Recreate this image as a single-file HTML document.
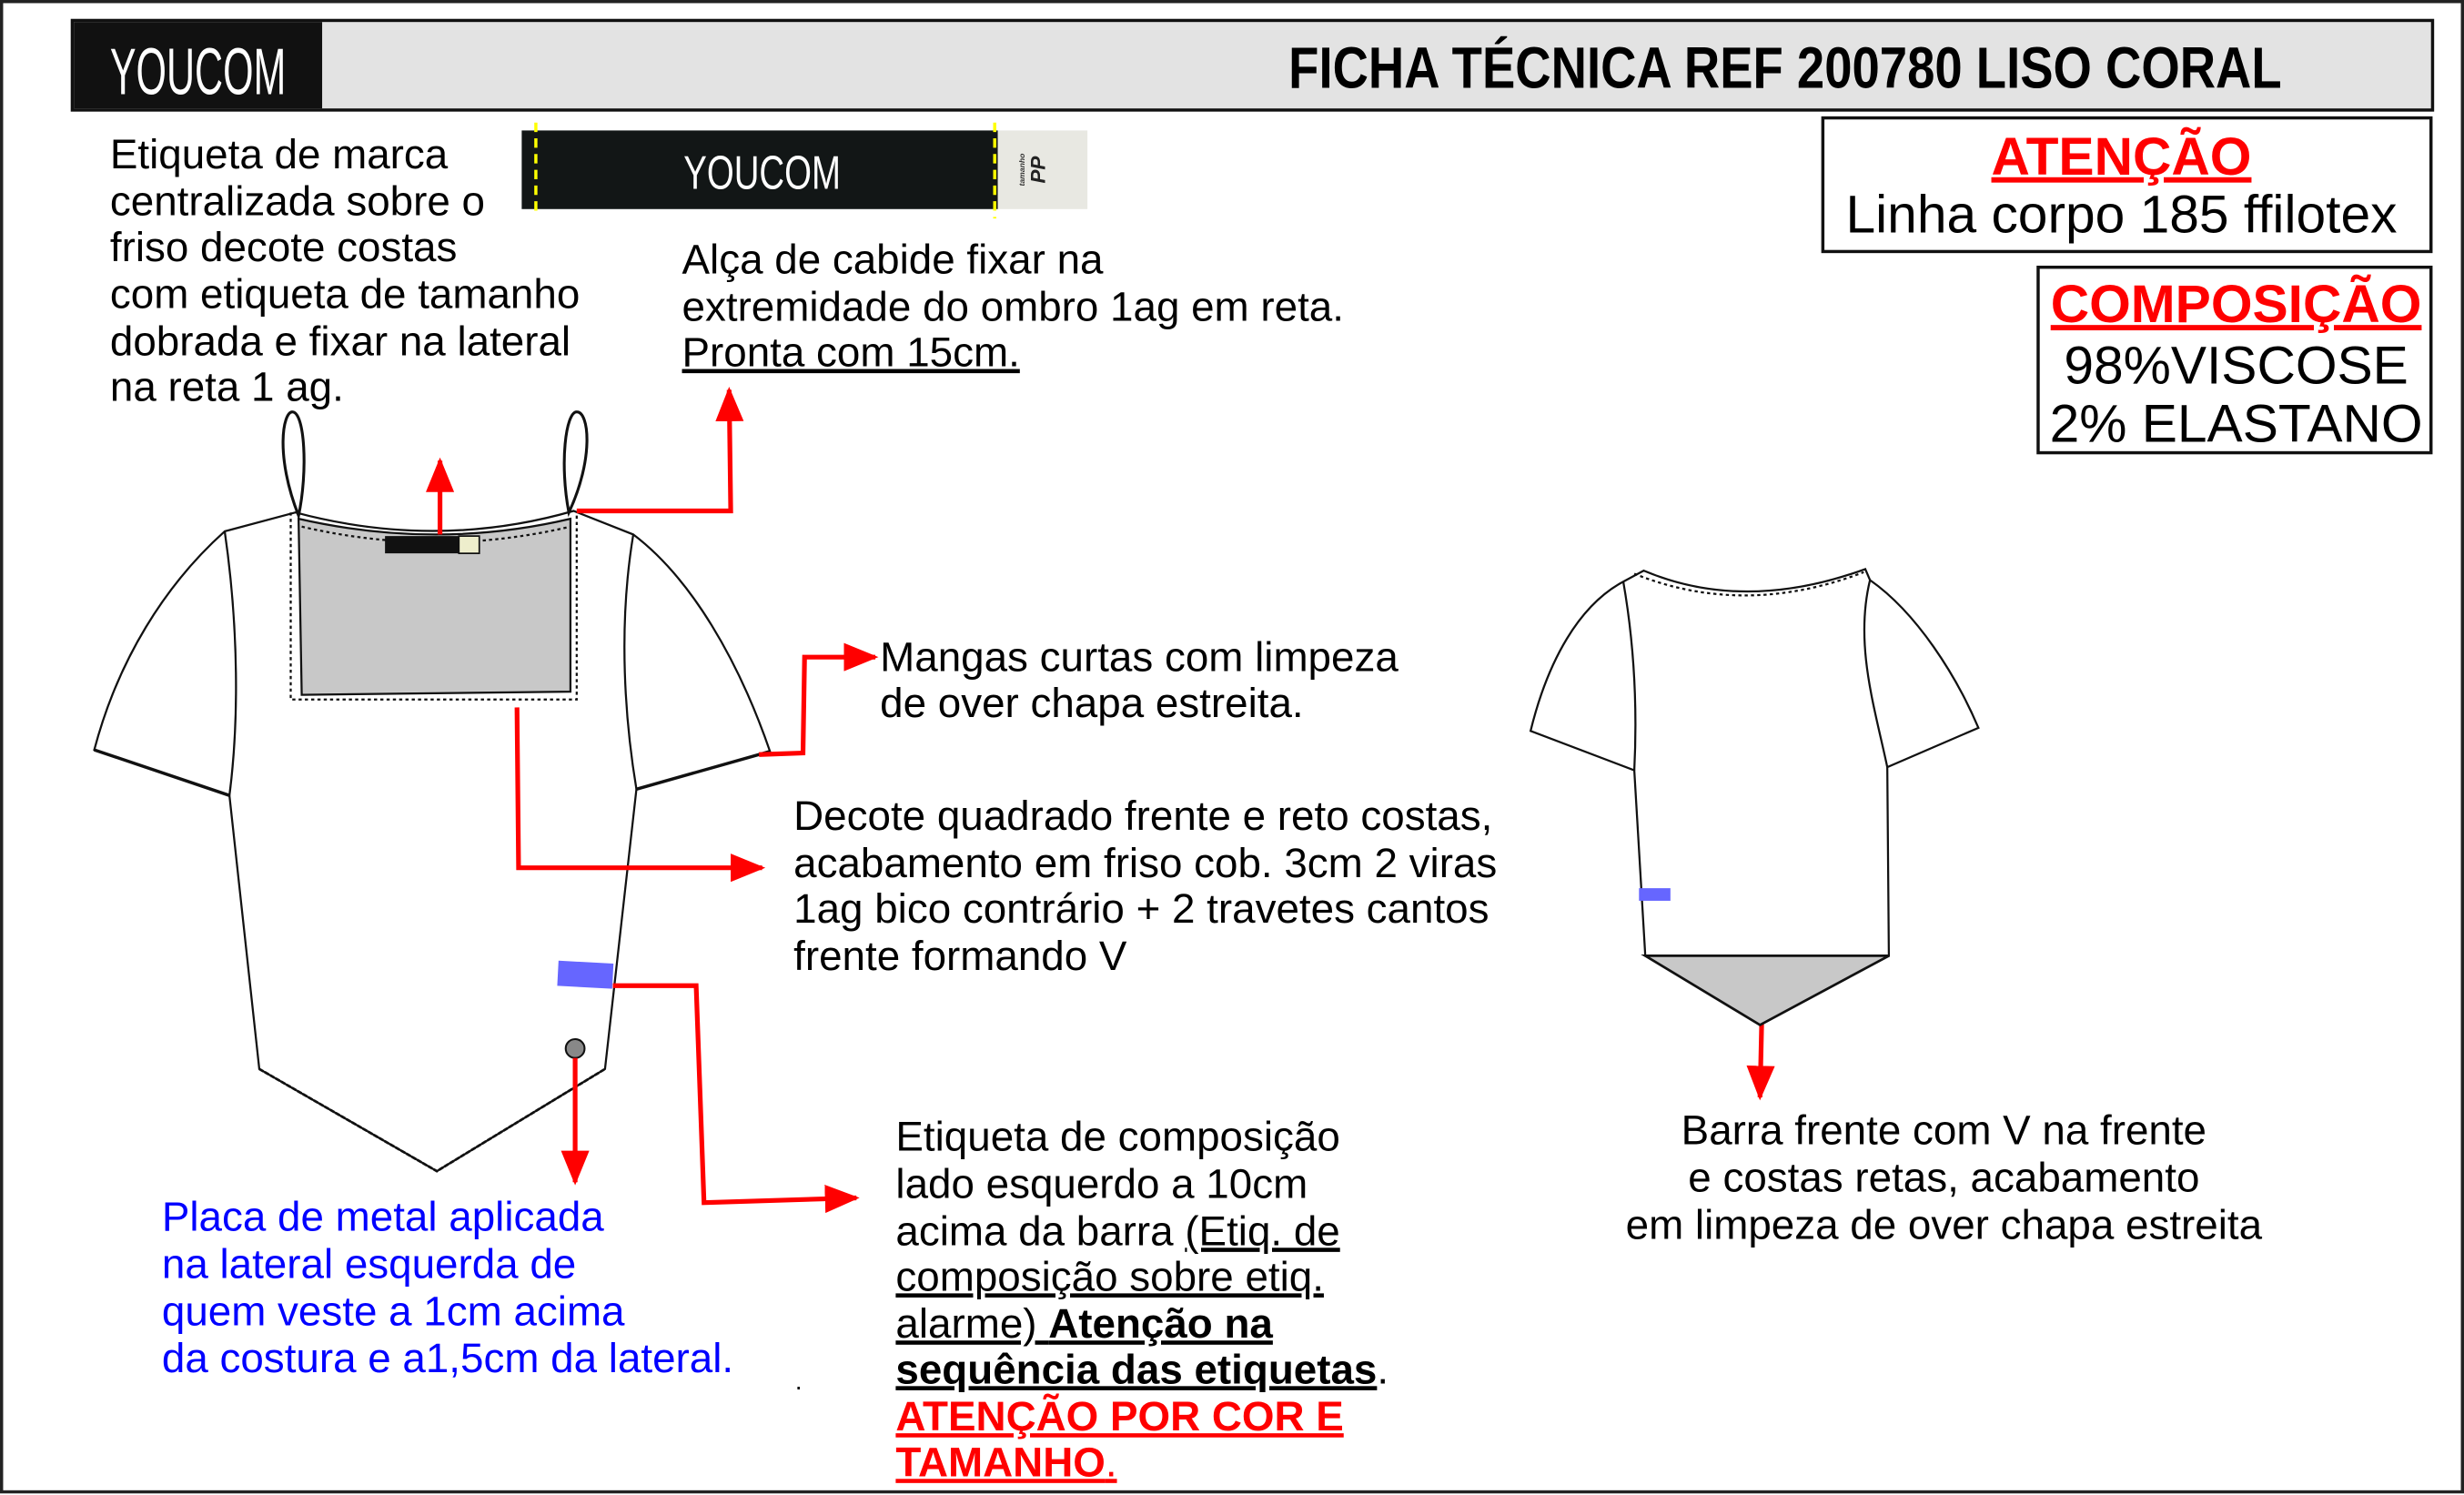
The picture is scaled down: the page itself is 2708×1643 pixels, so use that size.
<!DOCTYPE html>
<html><head><meta charset="utf-8"><style>
html,body{margin:0;padding:0;background:#fff;}
svg{display:block;}
text{font-family:"Liberation Sans",sans-serif;}
</style></head><body>
<svg width="2708" height="1643" viewBox="0 0 1568 951" preserveAspectRatio="none" xmlns="http://www.w3.org/2000/svg">
<defs>
<marker id="ah" markerWidth="22" markerHeight="18" refX="20" refY="9" orient="auto" markerUnits="userSpaceOnUse"><path d="M0,0 L22,9 L0,18 Z" fill="#f00"/></marker>
</defs>
<rect x="1" y="1" width="1566" height="948" fill="#fff" stroke="#222" stroke-width="2"/>
<!-- header -->
<rect x="46" y="13" width="1502" height="57" fill="#e3e3e3" stroke="#111" stroke-width="2"/>
<rect x="47" y="14" width="158" height="55" fill="#111"/>
<text x="126" y="60" font-size="42" fill="#fff" text-anchor="middle" font-family="Liberation Sans Narrow, Liberation Sans, sans-serif" textLength="112" lengthAdjust="spacingAndGlyphs">YOUCOM</text>
<text x="1452" y="56" font-size="37" font-weight="bold" text-anchor="end" font-family="Liberation Sans Narrow, Liberation Sans, sans-serif" textLength="632" lengthAdjust="spacingAndGlyphs">FICHA TÉCNICA REF 200780 LISO CORAL</text>
<!-- atenção -->
<rect x="1160" y="75" width="387" height="85" fill="#fff" stroke="#111" stroke-width="2"/>
<text x="1350" y="111" font-size="34" font-weight="bold" fill="#f00" text-anchor="middle" text-decoration="underline">ATENÇÃO</text>
<text x="1350" y="148" font-size="34" text-anchor="middle">Linha corpo 185 ffilotex</text>
<rect x="1297" y="170" width="250" height="118" fill="#fff" stroke="#111" stroke-width="2"/>
<text x="1423" y="205" font-size="34" font-weight="bold" fill="#f00" text-anchor="middle" text-decoration="underline">COMPOSIÇÃO</text>
<text x="1423" y="244" font-size="34" text-anchor="middle">98%VISCOSE</text>
<text x="1423" y="281" font-size="34" text-anchor="middle">2% ELASTANO</text>
<!-- label -->
<rect x="332" y="83" width="303" height="50" fill="#121616"/>
<rect x="635" y="83" width="57" height="50" fill="#e8e8e2"/>
<line x1="341" y1="78" x2="341" y2="137" stroke="#ff0" stroke-width="2" stroke-dasharray="6,4"/>
<line x1="633" y1="78" x2="633" y2="139" stroke="#ff0" stroke-width="2" stroke-dasharray="6,4"/>
<text x="485" y="120" font-size="30" fill="#fff" text-anchor="middle" font-family="Liberation Sans Narrow, Liberation Sans, sans-serif" textLength="100" lengthAdjust="spacingAndGlyphs">YOUCOM</text>
<text transform="translate(652,108) rotate(-90)" font-size="5" font-weight="bold" font-style="italic" fill="#333" text-anchor="middle">tamanho</text>
<text transform="translate(665,108) rotate(-90)" font-size="13" font-weight="bold" font-style="italic" fill="#222" text-anchor="middle">PP</text>
<!-- texts -->
<g font-size="26.5" xml:space="preserve">
<text x="70" y="107">Etiqueta de marca</text>
<text x="70" y="137">centralizada sobre o</text>
<text x="70" y="166">friso decote costas</text>
<text x="70" y="196">com etiqueta de tamanho</text>
<text x="70" y="226">dobrada e fixar na lateral</text>
<text x="70" y="255">na reta 1 ag.</text>
<text x="434" y="174">Alça de cabide fixar na</text>
<text x="434" y="204">extremidade do ombro 1ag em reta.</text>
<text x="434" y="233" text-decoration="underline">Pronta com 15cm.</text>
<text x="560" y="427">Mangas curtas com limpeza</text>
<text x="560" y="456">de over chapa estreita.</text>
<text x="505" y="528">Decote quadrado frente e reto costas,</text>
<text x="505" y="558">acabamento em friso cob. 3cm 2 viras</text>
<text x="505" y="587">1ag bico contrário + 2 travetes cantos</text>
<text x="505" y="617">frente formando V</text>
<text x="570" y="732">Etiqueta de composição</text>
<text x="570" y="762">lado esquerdo a 10cm</text>
<text x="570" y="792">acima da barra <tspan text-decoration="underline">(Etiq. de</tspan></text>
<text x="570" y="821" text-decoration="underline">composição sobre etiq.</text>
<text x="570" y="851"><tspan text-decoration="underline">alarme) </tspan><tspan font-weight="bold" text-decoration="underline">Atenção na </tspan></text>
<text x="570" y="880"><tspan font-weight="bold" text-decoration="underline">sequência das etiquetas</tspan>.</text>
<text x="570" y="910" font-weight="bold" fill="#f00" text-decoration="underline">ATENÇÃO POR COR E</text>
<text x="570" y="939" fill="#f00"><tspan font-weight="bold" text-decoration="underline">TAMANHO</tspan><tspan text-decoration="underline">.</tspan></text>
<g fill="#00f">
<text x="103" y="783">Placa de metal aplicada</text>
<text x="103" y="813">na lateral esquerda de</text>
<text x="103" y="843">quem veste a 1cm acima</text>
<text x="103" y="873">da costura  e a1,5cm da lateral.</text>
</g>
<text x="506" y="884" font-size="16">.</text>
<g text-anchor="middle">
<text x="1237" y="728">Barra frente com V na frente</text>
<text x="1237" y="758">e costas retas, acabamento</text>
<text x="1237" y="788">em limpeza de over chapa estreita</text>
</g>
</g>
<!-- front garment -->
<g fill="#fff" stroke="#111" stroke-width="1.3">
<path d="M188,326 L143,338 C105,372 75,420 60,477 L146,506 L165,680 L278,745 L385,680 L405,502 L490,478 C470,420 440,368 403,340 L365,325 Q278,350 188,326 Z"/>
<path d="M143,338 C152,400 152,460 146,506" fill="none"/>
<path d="M403,340 C393,400 398,460 405,502" fill="none"/>
<path d="M60,477 L146,506 M405,502 L490,478" stroke-width="2" fill="none"/>
<path d="M165,680 L278,745 L385,680" stroke-width="1.6" fill="none" stroke-dasharray="3,1"/>
<path d="M190,330 Q278,350 363,330 L363,440 L192,442 Z" fill="#c8c8c8"/>
<path d="M185,326 L185,445 L367,445 L367,325" fill="none" stroke-dasharray="2,2"/>
<path d="M192,335 Q278,355 363,335" fill="none" stroke-dasharray="2,2"/>
<path d="M190,328 C175,290 180,262 186,262 C194,262 196,300 190,328 Z" fill="none" stroke-width="1.8"/>
<path d="M362,326 C356,295 360,262 367,262 C375,262 378,292 362,326 Z" fill="none" stroke-width="1.8"/>
</g>
<rect x="245" y="341" width="47" height="11" fill="#111"/>
<rect x="292" y="341" width="13" height="11" fill="#eeeecc" stroke="#111" stroke-width="1"/>
<rect x="355" y="612" width="35" height="16" fill="#6666ff" transform="rotate(3 372 620)"/>
<circle cx="366" cy="667" r="6" fill="#888" stroke="#111" stroke-width="1.2"/>
<!-- red connectors -->
<g stroke="#f00" stroke-width="3" fill="none" marker-end="url(#ah)">
<path d="M280,340 L280,293"/>
<path d="M367,325 L465,325 L464,248"/>
<path d="M483,480 L511,479 L512,418 L557,418"/>
<path d="M329,450 L330,552 L485,552"/>
<path d="M390,627 L443,627 L448,765 L545,762"/>
<path d="M366,673 L366,752"/>
<path d="M1122,609 L1120,698"/>
</g>
<!-- back garment -->
<g fill="#fff" stroke="#111" stroke-width="1.3">
<path d="M1033,370 L1046,363 Q1110,390 1187,362 L1190,369 C1220,390 1245,430 1259,463 L1201,488 L1202,608 L1047,608 L1040,490 L974,465 C985,420 1005,385 1033,370 Z"/>
<path d="M1033,370 C1040,410 1042,450 1040,490" fill="none"/>
<path d="M1190,369 C1180,410 1193,450 1201,488" fill="none"/>
<path d="M1040,365 Q1110,393 1186,364" fill="none" stroke-dasharray="2,2"/>
<path d="M1047,608 L1202,608 L1120,652 Z" fill="#c8c8c8" stroke-width="1.6"/>
</g>
<rect x="1043" y="565" width="20" height="8" fill="#6666ff"/>
</svg>
</body></html>
